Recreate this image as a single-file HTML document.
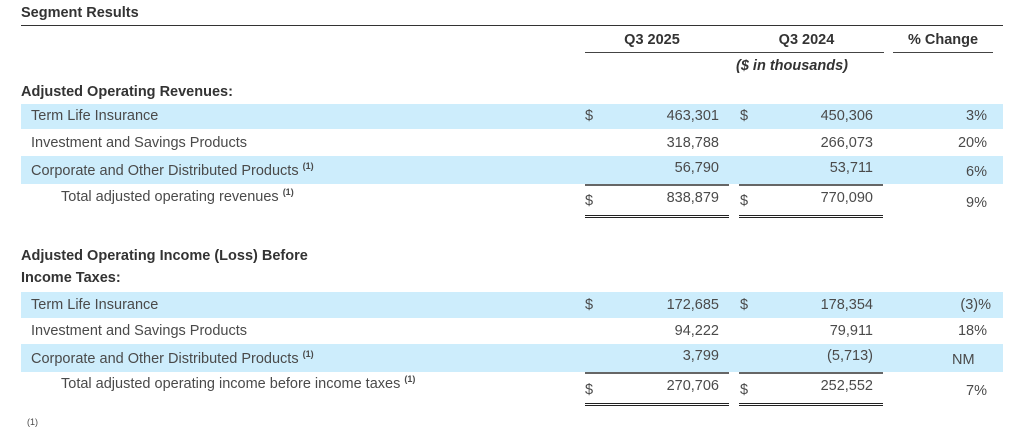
<!DOCTYPE html>
<html><head><meta charset="utf-8"><style>
body{margin:0;width:1024px;height:423px;background:#fff;position:relative;overflow:hidden;font-family:"Liberation Sans",sans-serif;font-size:14.5px;color:#4a4a4a}
.t{position:absolute;line-height:20px;white-space:nowrap}
.b{font-weight:bold;color:#333}
.r{text-align:right}
.band{position:absolute;left:21px;width:982px;background:#cdedfc}
.ln{position:absolute;background:#444;height:1px}
sup{font-size:9px;font-weight:bold;vertical-align:baseline;position:relative;top:-6px;line-height:0}
</style></head><body>
<div class="t b" style="left:21px;top:3px">Segment Results</div>
<div class="ln" style="left:21px;top:25px;width:982px;background:#333"></div>
<div class="t b" style="left:585px;width:134px;top:30px;text-align:center">Q3 2025</div>
<div class="t b" style="left:740px;width:133px;top:30px;text-align:center">Q3 2024</div>
<div class="t b" style="left:893px;width:100px;top:30px;text-align:center">% Change</div>
<div class="ln" style="left:585px;top:52px;width:299px"></div>
<div class="ln" style="left:893px;top:52px;width:100px"></div>
<div class="t b" style="left:736px;top:56px;font-style:italic">($ in thousands)</div>

<div class="t b" style="left:21px;top:82px">Adjusted Operating Revenues:</div>
<div class="band" style="top:104px;height:25px"></div>
<div class="band" style="top:156px;height:28px"></div>
<div class="t" style="left:31px;top:106px">Term Life Insurance</div>
<div class="t" style="left:31px;top:133px">Investment and Savings Products</div>
<div class="t" style="left:31px;top:161px">Corporate and Other Distributed Products <sup>(1)</sup></div>
<div class="t" style="left:61px;top:187px">Total adjusted operating revenues <sup>(1)</sup></div>

<div class="t" style="left:585px;top:106px">$</div><div class="t r" style="right:305px;top:106px">463,301</div>
<div class="t" style="left:740px;top:106px">$</div><div class="t r" style="right:151px;top:106px">450,306</div>
<div class="t r" style="right:37px;top:106px">3%</div>
<div class="t r" style="right:305px;top:133px">318,788</div>
<div class="t r" style="right:151px;top:133px">266,073</div>
<div class="t r" style="right:37px;top:133px">20%</div>
<div class="t r" style="right:305px;top:158px">56,790</div>
<div class="t r" style="right:151px;top:158px">53,711</div>
<div class="t r" style="right:37px;top:162px">6%</div>
<div class="ln" style="left:585px;top:184px;width:144px;height:2px;background:#666"></div>
<div class="ln" style="left:739px;top:184px;width:144px;height:2px;background:#666"></div>
<div class="t" style="left:585px;top:191px">$</div><div class="t r" style="right:305px;top:188px">838,879</div>
<div class="t" style="left:740px;top:191px">$</div><div class="t r" style="right:151px;top:188px">770,090</div>
<div class="t r" style="right:37px;top:193px">9%</div>
<div class="ln" style="left:585px;top:215px;width:144px;background:#222"></div>
<div class="ln" style="left:585px;top:217px;width:144px;background:#222"></div>
<div class="ln" style="left:739px;top:215px;width:144px;background:#222"></div>
<div class="ln" style="left:739px;top:217px;width:144px;background:#222"></div>

<div class="t b" style="left:21px;top:246px">Adjusted Operating Income (Loss) Before</div>
<div class="t b" style="left:21px;top:268px">Income Taxes:</div>
<div class="band" style="top:292px;height:26px"></div>
<div class="band" style="top:344px;height:28px"></div>
<div class="t" style="left:31px;top:295px">Term Life Insurance</div>
<div class="t" style="left:31px;top:321px">Investment and Savings Products</div>
<div class="t" style="left:31px;top:349px">Corporate and Other Distributed Products <sup>(1)</sup></div>
<div class="t" style="left:61px;top:374px">Total adjusted operating income before income taxes <sup>(1)</sup></div>

<div class="t" style="left:585px;top:295px">$</div><div class="t r" style="right:305px;top:295px">172,685</div>
<div class="t" style="left:740px;top:295px">$</div><div class="t r" style="right:151px;top:295px">178,354</div>
<div class="t r" style="right:33px;top:295px">(3)%</div>
<div class="t r" style="right:305px;top:321px">94,222</div>
<div class="t r" style="right:151px;top:321px">79,911</div>
<div class="t r" style="right:37px;top:321px">18%</div>
<div class="t r" style="right:305px;top:346px">3,799</div>
<div class="t r" style="right:151px;top:346px">(5,713)</div>
<div class="t" style="left:952px;top:350px">NM</div>
<div class="ln" style="left:585px;top:372px;width:144px;height:2px;background:#666"></div>
<div class="ln" style="left:739px;top:372px;width:144px;height:2px;background:#666"></div>
<div class="t" style="left:585px;top:380px">$</div><div class="t r" style="right:305px;top:376px">270,706</div>
<div class="t" style="left:740px;top:380px">$</div><div class="t r" style="right:151px;top:376px">252,552</div>
<div class="t r" style="right:37px;top:381px">7%</div>
<div class="ln" style="left:585px;top:403px;width:144px;background:#222"></div>
<div class="ln" style="left:585px;top:405px;width:144px;background:#222"></div>
<div class="ln" style="left:739px;top:403px;width:144px;background:#222"></div>
<div class="ln" style="left:739px;top:405px;width:144px;background:#222"></div>
<div class="t" style="left:27px;top:412px;font-size:9px">(1)</div>
</body></html>
